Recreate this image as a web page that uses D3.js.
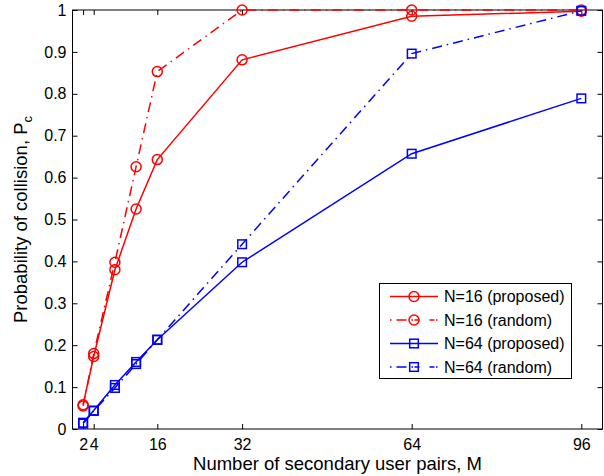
<!DOCTYPE html>
<html><head><meta charset="utf-8">
<script src="https://cdn.jsdelivr.net/npm/d3@7"></script>
<style>body{margin:0;background:#fff}svg{display:block}text{font-family:"Liberation Sans",Arial,sans-serif}</style>
</head><body><svg id="c" width="604" height="476"></svg>
<script>
const M = [2, 4, 8, 12, 16, 32, 64, 96];
const n16Proposed = [0.058, 0.173, 0.38, 0.525, 0.643, 0.881, 0.985, 0.997];
const n16Random   = [0.055, 0.18, 0.398, 0.626, 0.853, 1.0, 1.0, 1.0];
const n64Proposed = [0.015, 0.044, 0.105, 0.16, 0.213, 0.398, 0.657, 0.789];
const n64Random   = [0.013, 0.043, 0.098, 0.155, 0.213, 0.441, 0.896, 0.998];
const xTicks = [2, 4, 16, 32, 64, 96];
const yTicks = [0, 0.1, 0.2, 0.3, 0.4, 0.5, 0.6, 0.7, 0.8, 0.9, 1];
const seriesNames = ["N=16 (proposed)", "N=16 (random)", "N=64 (proposed)", "N=64 (random)"];

const series = [
  {name: seriesNames[0], vals: n16Proposed, color: "#ff0000", dash: null, marker: "circle"},
  {name: seriesNames[1], vals: n16Random, color: "#ff0000", dash: "10,5,1.5,5", marker: "circle"},
  {name: seriesNames[2], vals: n64Proposed, color: "#0000ff", dash: null, marker: "square"},
  {name: seriesNames[3], vals: n64Random, color: "#0000ff", dash: "10,5,1.5,5", marker: "square"}
];

const svg = d3.select("#c");
const L = 72.5, R = 602.5, T = 10, B = 429;
const x = d3.scaleLinear().domain([0, 100]).range([L, R]);
const y = d3.scaleLinear().domain([0, 1]).range([B, T]);

svg.append("g").attr("transform", `translate(0,${B})`)
  .call(d3.axisBottom(x).tickValues(xTicks).tickSize(-5).tickPadding(10).tickFormat(d3.format("d")))
  .call(g => { g.select(".domain").remove(); g.selectAll("text").attr("font-size", 16).attr("fill", "#000"); });
svg.append("g").attr("transform", `translate(0,${T})`)
  .call(d3.axisTop(x).tickValues(xTicks).tickSize(-5).tickFormat(""))
  .call(g => g.select(".domain").remove());
svg.append("g").attr("transform", `translate(${L},0)`)
  .call(d3.axisLeft(y).tickValues(yTicks).tickSize(-5).tickPadding(6).tickFormat(d => d === 0 || d === 1 ? d3.format("d")(d) : d3.format(".1f")(d)))
  .call(g => { g.select(".domain").remove(); g.selectAll("text").attr("font-size", 16).attr("fill", "#000"); });
svg.append("g").attr("transform", `translate(${R},0)`)
  .call(d3.axisRight(y).tickValues(yTicks).tickSize(-5).tickFormat(""))
  .call(g => g.select(".domain").remove());
svg.selectAll(".tick line").attr("stroke", "#000");

svg.append("rect").attr("x", L).attr("y", T).attr("width", R - L).attr("height", B - T)
  .attr("fill", "none").attr("stroke", "#000").attr("stroke-width", 1);

const line = d3.line().x(d => x(d[0])).y(d => y(d[1]));
function drawMarker(g, type, cx, cy, color) {
  if (type === "circle") {
    g.append("circle").attr("cx", cx).attr("cy", cy).attr("r", 5)
      .attr("fill", "none").attr("stroke", color).attr("stroke-width", 1.5);
  } else {
    g.append("rect").attr("x", cx - 4.3).attr("y", cy - 4.3).attr("width", 8.6).attr("height", 8.6)
      .attr("fill", "none").attr("stroke", color).attr("stroke-width", 1.5);
  }
}
series.forEach(s => {
  const pts = M.map((m, i) => [m, s.vals[i]]);
  const g = svg.append("g");
  g.append("path").attr("d", line(pts)).attr("fill", "none").attr("stroke", s.color)
    .attr("stroke-width", 1.5).attr("stroke-dasharray", s.dash);
  pts.forEach(p => drawMarker(g, s.marker, x(p[0]), y(p[1]), s.color));
});

// legend
const lg = svg.append("g");
lg.append("rect").attr("x", 379.5).attr("y", 283.5).attr("width", 192).attr("height", 95)
  .attr("fill", "#fff").attr("stroke", "#000").attr("stroke-width", 1);
series.forEach((s, i) => {
  const yy = 296.5 + i * 23.5;
  lg.append("line").attr("x1", 390).attr("x2", 438).attr("y1", yy).attr("y2", yy)
    .attr("stroke", s.color).attr("stroke-width", 1.5).attr("stroke-dasharray", s.dash ? "1.5,5,10,5,1.5" : null);
  drawMarker(lg, s.marker, 414, yy, s.color);
  lg.append("text").attr("x", 444).attr("y", yy + 5.8).attr("font-size", 16).attr("fill", "#000").text(s.name);
});

// axis titles
svg.append("text").attr("x", (L + R) / 2).attr("y", 470).attr("text-anchor", "middle")
  .attr("font-size", 18.5).attr("fill", "#000").text("Number of secondary user pairs, M");
const yt = svg.append("text").attr("transform", `translate(27,${(T + B) / 2}) rotate(-90)`)
  .attr("text-anchor", "middle").attr("font-size", 18.5).attr("fill", "#000");
yt.append("tspan").text("Probability of collision, P");
yt.append("tspan").attr("font-size", 13).attr("dy", 5).text("c");
</script></body></html>
